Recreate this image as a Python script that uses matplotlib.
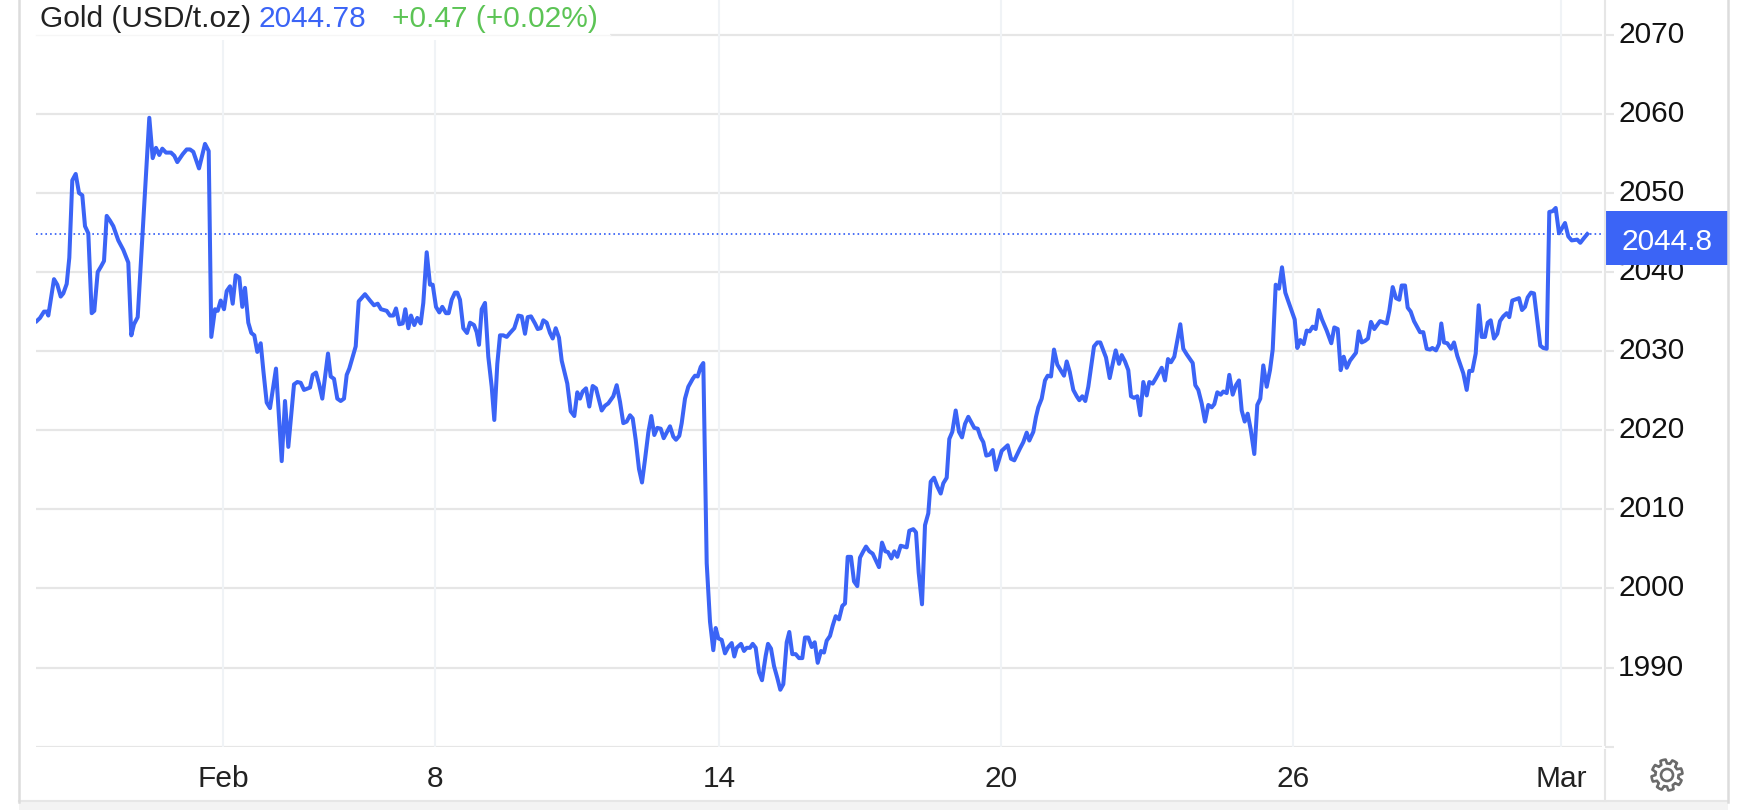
import numpy as np
import matplotlib
matplotlib.use("Agg")
import matplotlib.pyplot as plt
from matplotlib.patches import Rectangle, Polygon, Circle
from matplotlib.transforms import ScaledTranslation

plt.rcParams['font.family'] = ['Liberation Sans', 'DejaVu Sans']

# ---- data ----
sample_pos = [
    0.7, 4, 8, 10.7, 12.3, 14.7, 18, 21.3, 24.7, 27.3, 30.7, 33.3, 36.3, 39.7, 43, 46.3, 49, 52.3, 55.7, 58.3,
    61.7, 65, 68, 70.7, 74, 77.3, 82.3, 87.3, 92.3, 95.3, 98, 101.7, 107.3, 113.3, 116.7, 120, 123.3, 126.3, 130, 135,
    138.3, 141.3, 146.7, 150.7, 154, 157.3, 163, 169, 172.7, 175.3, 179, 181.7, 184.7, 188, 190.7, 194,
    196.7, 199.7, 203.3, 206.3, 209, 212.3, 215.3, 218.3, 221.3, 224.7, 227.3, 230.7, 234, 240, 245.7, 249, 252.3,
    258, 261.3, 264.7, 268, 274, 276.7, 280, 283, 286.3, 292, 294.7, 298, 301.3, 304.7, 308, 310.7, 313.3, 319.7,
    322.7, 329, 334, 338, 341.7, 345, 350.7, 354, 357.3, 360, 363.3, 366.7, 369.3, 372.3, 375, 378.3, 381.3, 384.7,
    387.3, 390.7, 394, 396.7, 400, 403.3, 406.3, 410, 412.7, 415.7, 419, 421.3, 424, 427.3, 431, 434,
    438, 440.7, 443, 445.7, 449, 452.3, 455.7, 458.3, 461.3, 464, 467.3, 470.7, 474, 478.3, 482.3, 485.7, 489, 491.7,
    495, 499, 501.7, 504.7, 507.3, 510.7, 514, 516.7, 519.7, 523, 525.7, 531.3, 534.7, 538.3, 541.3, 544, 546.7, 550,
    553.3, 556.7, 560, 565.7, 569, 572.3, 577.3, 580.7, 584, 587.3, 590.7, 594, 596.7, 599.7, 603, 606, 609, 612.3,
    615.3, 618.3, 621.3, 624.7, 627.7, 634, 637.3, 640, 643.3, 645.7, 649, 652.3, 656.7, 659, 661.7, 664.7, 667.3,
    670.7, 674, 677.3, 679.7, 682.3, 685.7, 689, 692.3, 695.7, 698.3, 700.7, 705, 708, 710.7, 714, 716.7, 719.7, 723,
    726, 729.7, 732, 735, 738, 741.3, 744.3, 747.3, 750.7, 753.3, 756.3, 759.7, 763, 766.3, 769, 772.3, 775.7, 778.7,
    781.7, 785, 788, 790.7, 794, 796.7, 799.7, 803, 806.3, 809, 811.7, 815, 818, 821.3, 824, 827.3, 830, 833.3, 836.7,
    843, 846, 849.3, 852, 855.3, 858.3, 861.3, 864.7, 870.7, 873.3, 877.3, 880, 882.7, 886,
    889, 892.3, 894.7, 898, 901.3, 904.7, 907.3, 910.7, 913.3, 916.3, 919.7, 923, 926, 929, 932.3, 938.3, 941.7, 944.7,
    947.3, 950.3, 953.3, 956.7, 960, 965.7, 971.7, 975, 978.3, 984, 987.3, 990.7, 993.3, 997.3, 1000, 1002.3, 1005.7,
    1009, 1011.7, 1015, 1018, 1021.3, 1028, 1030.7, 1033.7, 1037.3, 1040.7, 1043.3, 1046.3, 1049.3, 1052.3, 1058,
    1061.3, 1064.3, 1070, 1073.7, 1076.7, 1079.7, 1083, 1085.7, 1089, 1092.3, 1095, 1098, 1101.3, 1104.3, 1107.3,
    1110.7, 1113.3, 1116.7, 1120,
    1125.7, 1129, 1132, 1135, 1138.3, 1144.3, 1147.3, 1150.7, 1154, 1156.7, 1159.3, 1162.3, 1165.7, 1169, 1172.3,
    1175.7, 1178.3, 1181.3, 1184.7, 1187.3, 1190.7, 1193.3, 1196.7, 1200, 1203, 1205.7, 1208.7, 1211.7, 1214.7, 1218.3,
    1221.3, 1224.3, 1227.3, 1230.7, 1234, 1236.7, 1239.7, 1243, 1246, 1249.3, 1252.3, 1258.7, 1261.3, 1264.3, 1267.7,
    1270.7, 1273.7, 1276.7, 1279.7, 1282.7, 1286, 1290.7, 1295.3, 1298.3, 1301.7, 1304.7, 1307.7, 1310.7, 1314, 1320,
    1322.7, 1325.7, 1329, 1332, 1335,
    1338.3, 1344, 1350.7, 1353.3, 1356.7, 1360, 1363.3, 1365.7, 1369, 1371.7, 1374.7, 1378, 1384, 1387.3, 1390.7, 1394,
    1396.3, 1400, 1403, 1405.3, 1408, 1411.3, 1415, 1418, 1421.3, 1427.3, 1430.7, 1433.3, 1436.3, 1439.7, 1442.7,
    1445.7, 1449, 1451.7, 1454.7, 1458, 1461.3, 1464, 1467.3, 1470.7, 1473.3, 1476.3, 1483, 1486, 1489, 1491.7, 1495,
    1498, 1501.3, 1504.3, 1507.3, 1510.7, 1513.3, 1516.7, 1519.7, 1523, 1529, 1532.3, 1535.7, 1541.3, 1544.3, 1548,
    1551.3,
]
price = [
    2033.8, 2034.2, 2035.0, 2035.0, 2034.5, 2036.4, 2039.1, 2038.4, 2036.9, 2037.3, 2038.5, 2041.8, 2051.6, 2052.4,
    2050.0, 2049.7, 2045.8, 2044.9, 2034.8, 2035.1, 2040.0, 2040.7, 2041.4, 2047.1, 2046.5, 2045.8, 2044.0, 2042.8,
    2041.2, 2032.0, 2033.4, 2034.3, 2046.5, 2059.5, 2054.4, 2055.7, 2054.8, 2055.6, 2055.1, 2055.1, 2054.7, 2053.9,
    2054.9, 2055.5, 2055.5, 2055.2, 2053.1, 2056.2, 2055.3, 2031.8, 2035.3, 2035.1, 2036.4, 2035.3, 2037.6, 2038.2,
    2036.0, 2039.6, 2039.3, 2035.6, 2038.0, 2033.6, 2032.3, 2032.0, 2029.9, 2031.0, 2027.6, 2023.5, 2022.8, 2027.8,
    2016.1, 2023.7, 2017.9, 2025.8, 2026.1, 2026.0, 2025.1, 2025.4, 2027.0, 2027.3, 2025.9, 2024.0, 2029.7, 2026.8,
    2026.5, 2024.0, 2023.7, 2024.0, 2027.0, 2027.8, 2030.6, 2036.3, 2037.2, 2036.4, 2035.8, 2036.0, 2035.3, 2035.1,
    2034.5, 2034.5, 2035.4, 2033.4, 2033.5, 2035.3, 2032.9, 2034.5, 2033.3, 2034.2, 2033.5, 2036.1, 2042.5, 2038.4,
    2038.4, 2035.6, 2034.9, 2035.6, 2034.8, 2034.8, 2036.5, 2037.4, 2037.4, 2036.5, 2032.9, 2032.3, 2033.6,
    2033.3, 2032.4, 2030.8, 2035.3, 2036.1, 2029.3, 2025.5, 2021.3, 2028.4, 2032.0, 2032.0, 2031.8, 2032.3, 2032.9,
    2034.5, 2034.4, 2032.2, 2034.3, 2034.4, 2033.5, 2032.8, 2032.9, 2033.9, 2033.6, 2032.3, 2031.6, 2032.9, 2031.7,
    2028.8, 2025.9, 2022.4, 2021.8, 2024.8, 2024.0, 2024.9, 2025.3, 2023.0, 2025.6, 2025.3, 2022.5, 2023.1, 2023.4,
    2024.3, 2025.7, 2023.6, 2020.9, 2021.1, 2021.9, 2021.5, 2018.8, 2015.1, 2013.4, 2016.3, 2019.7, 2021.8, 2019.4,
    2020.3, 2020.2, 2019.0, 2020.5, 2019.2, 2018.8, 2019.3, 2020.9, 2024.0, 2025.5, 2026.5, 2026.9, 2026.8, 2028.0,
    2028.5,
    2003.2, 1995.8, 1992.2, 1995.0, 1993.7, 1993.5, 1991.8, 1992.6, 1993.1, 1991.4, 1992.5, 1993.0, 1992.1, 1992.5,
    1992.5, 1993.0, 1992.5, 1989.4, 1988.4, 1991.5, 1993.0, 1992.4, 1990.2, 1988.7, 1987.2, 1987.9, 1993.2, 1994.5,
    1991.7, 1991.7, 1991.2, 1991.2, 1993.8, 1993.8, 1992.6, 1993.2, 1990.6, 1992.1, 1991.9, 1993.4, 1994.0, 1995.3,
    1996.5, 1996.1, 1997.8, 1998.1, 2004.0, 2004.0, 2000.9, 2000.3, 2003.9, 2004.7, 2005.3, 2004.7, 2004.4, 2002.7,
    2005.8, 2004.7, 2004.6, 2003.8, 2004.7, 2004.0, 2005.4, 2005.2, 2007.3, 2007.5, 2007.1, 2002.0, 1998.0,
    2008.0, 2009.5, 2013.5, 2014.0, 2012.9, 2012.0, 2013.3, 2014.0, 2018.9, 2019.8, 2022.5, 2019.8, 2019.1, 2020.8,
    2021.7, 2020.3, 2020.2, 2019.1, 2018.5, 2016.8, 2016.9, 2017.5, 2015.0, 2017.4, 2018.1, 2016.4, 2016.2, 2017.7,
    2018.5, 2019.7, 2018.7, 2019.8, 2021.7, 2022.9, 2024.0, 2026.3, 2026.9, 2026.8, 2030.2, 2028.3, 2026.9, 2028.7,
    2027.4, 2025.1, 2024.3, 2023.8, 2024.3, 2023.7, 2025.5, 2030.6, 2031.1, 2031.1, 2029.2, 2026.6, 2028.4, 2030.1,
    2028.4, 2029.5, 2028.7, 2027.6, 2024.3, 2024.1, 2024.3, 2021.9, 2026.1, 2024.4, 2026.1, 2025.9, 2026.6,
    2027.9, 2026.3, 2029.0, 2028.6, 2029.3, 2033.4, 2030.3, 2029.6, 2029.0, 2028.5, 2025.7, 2025.1, 2023.4, 2021.1,
    2023.2, 2022.9, 2023.3, 2024.8, 2024.5, 2024.9, 2024.7, 2027.0, 2024.5, 2025.7, 2026.3, 2022.5, 2021.1, 2022.1,
    2020.1, 2017.0, 2023.2, 2024.0, 2028.2, 2025.5, 2027.6, 2030.2, 2038.4, 2037.9, 2040.6, 2037.4, 2036.3, 2034.0,
    2030.4, 2031.4, 2030.9, 2032.6, 2032.5, 2033.1, 2032.8, 2035.2, 2034.0, 2032.6, 2031.0, 2033.0, 2032.8, 2027.6,
    2029.3, 2027.9, 2028.8, 2029.8, 2032.5, 2031.1, 2031.3, 2031.6, 2033.7,
    2032.8, 2033.8, 2033.5, 2035.1, 2038.1, 2036.7, 2036.5, 2038.3, 2038.3, 2035.5, 2035.0, 2033.8, 2032.4, 2032.4,
    2030.3, 2030.2, 2030.4, 2030.1, 2030.9, 2033.5, 2031.1, 2031.0, 2030.3, 2031.1, 2029.4, 2027.2, 2025.1, 2027.5,
    2027.5, 2029.7, 2035.8, 2031.8, 2031.8, 2033.6, 2033.9, 2031.6, 2032.2, 2033.8, 2034.4, 2034.8, 2034.3, 2036.4,
    2036.7, 2035.2, 2035.6, 2036.8, 2037.4, 2037.3, 2033.8, 2030.7, 2030.4, 2030.3, 2047.6, 2047.7, 2048.1, 2044.9,
    2046.2, 2044.5, 2044.0, 2044.1, 2043.7, 2044.3, 2044.8,
]
n = min(len(sample_pos), len(price))
sample_pos, price = sample_pos[:n], price[:n]

date_ticks = [187, 399.3, 683.4, 965, 1257, 1525]
date_labels = ["Feb", "8", "14", "20", "26", "Mar"]
price_ticks = [1980, 1990, 2000, 2010, 2020, 2030, 2040, 2050, 2060, 2070]
price_labels = ["", "1990", "2000", "2010", "2020", "2030", "2040", "2050", "2060", "2070"]
last_price = 2044.78

BLUE = "#3b64f6"
GREEN = "#5cc455"
W, H = 1742, 810
FS = 21.5

fig = plt.figure(figsize=(W / 100, H / 100), dpi=100, facecolor="white")
ax = fig.add_axes([36 / W, 1 - 746.7 / H, (1605 - 36) / W, 746.7 / H])
ax.set_xlim(0, 1569)
ax.set_ylim(1980, 2074.39)
for s in ax.spines.values():
    s.set_visible(False)
ax.set_axisbelow(True)
ax.yaxis.tick_right()
ax.set_yticks(price_ticks, price_labels)
ax.set_xticks(date_ticks, date_labels)
ax.tick_params(axis="y", length=6.5, width=1.5, color="#e6e6e6", labelsize=FS,
               labelcolor="#111111", pad=3)
ax.tick_params(axis="x", length=0, labelsize=FS, labelcolor="#222222", pad=13)
lift = ScaledTranslation(0, 3 / 100, fig.dpi_scale_trans)
for lab in ax.get_yticklabels():
    lab.set_transform(lab.get_transform() + lift)
for s in price_ticks:
    ax.plot([0, 1566], [s, s], color="#e6e6e6", lw=1.6, zorder=1, solid_capstyle="butt")
for t in date_ticks:
    ax.axvline(t, color="#f0f3f6", lw=1.5, zorder=1.5)
ax.axhline(last_price, color=BLUE, lw=1.3, ls=(0, (0.9, 1.7)), zorder=2)
ax.plot(sample_pos, price, color=BLUE, lw=2.9, zorder=3, solid_joinstyle="round")

# page furniture, laid out in pixels
ov = fig.add_axes([0, 0, 1, 1], zorder=5)
ov.set_xlim(0, W)
ov.set_ylim(H, 0)
ov.axis("off")
ov.patch.set_alpha(0)
ov.add_patch(Rectangle((36, 0), 574, 40, fc="white", ec="none"))
ov.plot([36, 610], [34.7, 34.7], color="#f6f6f6", lw=1)
ov.add_patch(Rectangle((19, 802), 1709, 8, fc="#f3f3f3", ec="none"))
ov.plot([19, 1728], [801, 801], color="#e6e6e6", lw=1.5)
ov.plot([19, 19], [0, 802], color="#dcdcdc", lw=1.8)
ov.plot([1728, 1728], [0, 802], color="#dcdcdc", lw=1.8)
ov.plot([1605, 1605], [0, 745], color="#e6e6e6", lw=1.5)
ov.plot([1605, 1605], [750, 801], color="#e6e6e6", lw=1.5)

ov.text(39.5, 26.7, "Gold (USD/t.oz)", fontsize=FS, color="#222222", va="baseline", ha="left")
ov.text(258.5, 26.7, "2044.78", fontsize=FS, color=BLUE, va="baseline", ha="left")
ov.text(391.5, 26.7, "+0.47 (+0.02%)", fontsize=FS, color=GREEN, va="baseline", ha="left")

ov.add_patch(Rectangle((1606, 211), 122, 54, fc=BLUE, ec="none"))
ov.text(1667, 250, "2044.8", fontsize=FS, color="white", va="baseline", ha="center")

# settings gear
cx, cy = 1667, 775
ang = np.linspace(0, 2 * np.pi, 73)[:-1]
rad = []
for a in ang:
    phase = (a / (2 * np.pi) * 8 + 0.5) % 1
    rad.append(15.5 if phase < 0.4 or phase > 0.9 else 11.5)
rad = np.array(rad)
ov.add_patch(Polygon(np.c_[cx + rad * np.cos(ang), cy + rad * np.sin(ang)], closed=True,
                     fc="none", ec="#6b6b6b", lw=1.9, joinstyle="round"))
ov.add_patch(Circle((cx, cy), 6, fc="none", ec="#6b6b6b", lw=1.9))

fig.savefig("out.png", dpi=100)
